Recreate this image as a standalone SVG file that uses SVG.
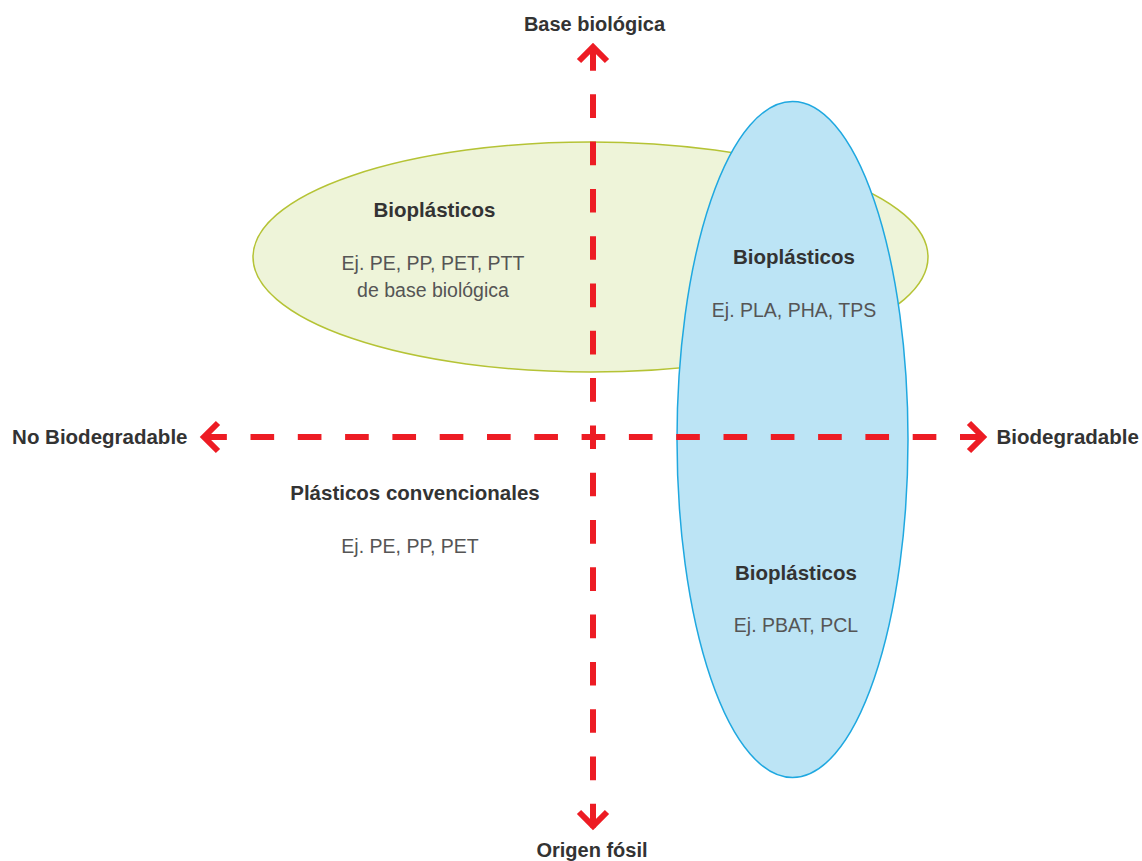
<svg xmlns="http://www.w3.org/2000/svg" width="1142" height="861" viewBox="0 0 1142 861">
  <style>
    .h { font-family: "Liberation Sans", Arial, sans-serif; font-weight: bold; font-size: 20.5px; fill: #333333; text-anchor: middle; }
    .ax { font-family: "Liberation Sans", Arial, sans-serif; font-weight: bold; font-size: 20px; fill: #333333; }
    .t { font-family: "Liberation Sans", Arial, sans-serif; font-size: 19.5px; fill: #555555; text-anchor: middle; }
    .axis { stroke: #ED1C24; stroke-width: 6; fill: none; stroke-dasharray: 23.65 23.65; }
    .head { stroke: #ED1C24; stroke-width: 6; fill: none; stroke-linejoin: miter; stroke-linecap: butt; }
  </style>
  <rect width="1142" height="861" fill="#ffffff"/>
  <g id="green-ellipse">
    <ellipse cx="590.5" cy="257" rx="337.5" ry="115" fill="#EEF4D9" stroke="#B5C335" stroke-width="1.5"/>
  </g>
  <g id="blue-ellipse">
    <ellipse cx="792.5" cy="439.5" rx="115.5" ry="338" fill="#BCE4F5" stroke="#1FA8E0" stroke-width="1.5"/>
  </g>
  <g id="connectors">
    <line class="axis" x1="203.2" y1="437" x2="984" y2="437"/>
    <line class="axis" x1="593" y1="47" x2="593" y2="828"/>
    <polyline class="head" points="218,423 204,437 218,451"/>
    <polyline class="head" points="969,423 983,437 969,451"/>
    <polyline class="head" points="579,61 593,47 607,61"/>
    <polyline class="head" points="579,812 593,826 607,812"/>
  </g>
  <g id="label-top"><text class="ax" x="594.5" y="31" text-anchor="middle">Base biológica</text></g>
  <g id="label-bottom"><text class="ax" x="592" y="857" text-anchor="middle">Origen fósil</text></g>
  <g id="label-left"><text class="h" x="187.5" y="444" text-anchor="end" style="text-anchor:end">No Biodegradable</text></g>
  <g id="label-right"><text class="h" x="996.5" y="444" style="text-anchor:start">Biodegradable</text></g>
  <g id="node-bio-nonbiodeg">
    <text class="h" x="434.5" y="217">Bioplásticos</text>
    <text class="t" x="433" y="270">Ej. PE, PP, PET, PTT</text>
    <text class="t" x="433" y="297">de base biológica</text>
  </g>
  <g id="node-bio-biodeg-top">
    <text class="h" x="794" y="264">Bioplásticos</text>
    <text class="t" x="794" y="317">Ej. PLA, PHA, TPS</text>
  </g>
  <g id="node-conventional">
    <text class="h" x="415" y="500">Plásticos convencionales</text>
    <text class="t" x="410" y="552.5">Ej. PE, PP, PET</text>
  </g>
  <g id="node-bio-biodeg-bottom">
    <text class="h" x="796" y="579.5">Bioplásticos</text>
    <text class="t" x="796" y="632">Ej. PBAT, PCL</text>
  </g>
</svg>
